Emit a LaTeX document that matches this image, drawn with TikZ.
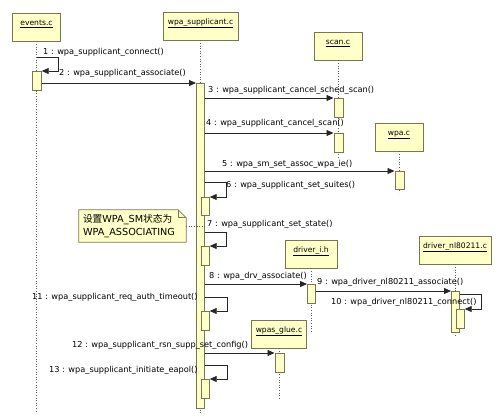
\documentclass[tikz,border=0pt]{standalone}
\usepackage{fontspec}
\setmainfont{DejaVu Sans}
\newfontfamily\cjk{Noto Sans CJK SC}
\usetikzlibrary{arrows.meta,backgrounds}
\definecolor{boxfill}{RGB}{255,255,200}
\definecolor{boxdraw}{RGB}{120,120,80}
\definecolor{lifec}{RGB}{90,90,90}
\begin{document}
\begin{tikzpicture}[x=1pt,y=-1pt,
 head/.style={draw=boxdraw, fill=boxfill, line width=0.8pt, inner sep=0pt, text height=12.5pt, text depth=15.5pt, font=\fontsize{7.6}{9}\selectfont},
 act/.style={draw=boxdraw, fill=boxfill, line width=0.7pt, minimum width=8pt, inner sep=0pt, anchor=north west},
 life/.style={draw=lifec, line width=0.8pt, dash pattern=on 1pt off 1.6pt},
 msg/.style={draw=black!85, line width=0.8pt, -{Triangle[length=7pt,width=6pt]}},
 lbl/.style={anchor=west, inner sep=0pt, font=\fontsize{8.2}{10}\selectfont},
 notebox/.style={inner xsep=4pt, inner ysep=0pt, minimum height=32pt, text width=99pt, align=left, font=\fontsize{9.7}{13.5}\selectfont},
 noteline/.style={draw=boxdraw, fill=boxfill, line width=0.8pt, line join=round},
]
\useasboundingbox (0,0) rectangle (501,416);
% headers
\node[head, minimum width=48pt] (ev) at (36.5,27) {\underline{events.c}};
\node[head, minimum width=75pt] (ws) at (200.5,26) {\underline{wpa\_supplicant.c}};
\node[head, minimum width=48pt] (sc) at (338,46) {\underline{scan.c}};
\node[head, minimum width=48pt] (wp) at (399,137) {\underline{wpa.c}};
\node[head, minimum width=52pt] (dr) at (311,254) {\underline{driver\_i.h}};
\node[head, minimum width=72pt] (nl) at (455,250) {\underline{driver\_nl80211.c}};
\node[head, minimum width=55pt] (gl) at (279,334) {\underline{wpas\_glue.c}};
% lifeline ends
\coordinate (ev_end) at (36.5,413);
\coordinate (ws_end) at (200.5,413);
\coordinate (sc_end) at (338,158);
\coordinate (wp_end) at (399,193);
\coordinate (dr_end) at (311,332);
\coordinate (nl_end) at (455,337);
\coordinate (gl_end) at (279,400);
\draw[life] (ev) -- (ev_end);
\draw[life] (ws) -- (ws_end);
\draw[life] (sc) -- (sc_end);
\draw[life] (wp) -- (wp_end);
\draw[life] (dr) -- (dr_end);
\draw[life] (nl) -- (nl_end);
\draw[life] (gl) -- (gl_end);
% activations
\node[act, minimum width=9pt, minimum height=19pt] (ev_a) at (32,71) {};
\node[act, minimum height=325pt] (ws_a) at (196,83) {};
\node[act, minimum width=9pt, minimum height=19pt] (sc_a1) at (333.5,98) {};
\node[act, minimum width=9pt, minimum height=19pt] (sc_a2) at (333.5,133) {};
\node[act, minimum width=9pt, minimum height=18pt] (wp_a) at (394.5,171) {};
\node[act, minimum height=18pt] (ws_n6) at (201,197) {};
\node[act, minimum height=19pt] (ws_n7) at (201,246) {};
\node[act, minimum height=19pt] (dr_a) at (307,284) {};
\node[act, minimum height=41pt] (nl_a) at (451,291) {};
\node[act, minimum height=19pt] (nl_n) at (456,309) {};
\node[act, minimum height=19pt] (ws_n11) at (201,311) {};
\node[act, minimum width=9pt, minimum height=19pt] (gl_a) at (274.5,353) {};
\node[act, minimum height=19pt] (ws_n13) at (201,379) {};
% messages
\coordinate (m1a) at (36.5,57);
\coordinate (m1b) at (58,57);
\draw[msg] (m1a) -- (m1b) |- (ev_a.north east);
\draw[msg] (ev_a.east |- ws_a.north) -- (ws_a.north west);
\draw[msg] (ws_a.east |- sc_a1.north) -- (sc_a1.north west);
\draw[msg] (ws_a.east |- sc_a2.north) -- (sc_a2.north west);
\draw[msg] (ws_a.east |- wp_a.north) -- (wp_a.north west);
\coordinate (m6) at (226,182);
\draw[msg] (ws_a.east |- m6) -- (m6) |- (ws_n6.north east);
\coordinate (m7) at (226,232);
\draw[msg] (ws_a.east |- m7) -- (m7) |- (ws_n7.north east);
\draw[msg] (ws_a.east |- dr_a.north) -- (dr_a.north west);
\draw[msg] (dr_a.east |- nl_a.north) -- (nl_a.north west);
\coordinate (m10) at (481,294);
\draw[msg] (nl_a.east |- m10) -- (m10) |- (nl_n.north east);
\coordinate (m11) at (227,297);
\draw[msg] (ws_a.east |- m11) -- (m11) |- (ws_n11.north east);
\draw[msg] (ws_a.east |- gl_a.north) -- (gl_a.north west);
\coordinate (m13) at (227,365);
\draw[msg] (ws_a.east |- m13) -- (m13) |- (ws_n13.north east);
% labels
\node[lbl] (l1) at (43,52) {1 : wpa\_supplicant\_connect()};
\node[lbl] (l2) at (59,73) {2 : wpa\_supplicant\_associate()};
\node[lbl] (l3) at (208,90) {3 : wpa\_supplicant\_cancel\_sched\_scan()};
\node[lbl] (l4) at (206,123) {4 : wpa\_supplicant\_cancel\_scan()};
\node[lbl] (l5) at (222,164) {5 : wpa\_sm\_set\_assoc\_wpa\_ie()};
\node[lbl] (l6) at (226,185) {6 : wpa\_supplicant\_set\_suites()};
\node[lbl] (l7) at (207,224) {7 : wpa\_supplicant\_set\_state()};
\node[lbl] (l8) at (209,276) {8 : wpa\_drv\_associate()};
\node[lbl] (l9) at (317,282) {9 : wpa\_driver\_nl80211\_associate()};
\node[lbl] (l10) at (331,302) {10 : wpa\_driver\_nl80211\_connect()};
\node[lbl] (l11) at (32,297) {11 : wpa\_supplicant\_req\_auth\_timeout()};
\node[lbl] (l12) at (72,345) {12 : wpa\_supplicant\_rsn\_supp\_set\_config()};
\node[lbl] (l13) at (49,370) {13 : wpa\_supplicant\_initiate\_eapol()};
% note
\node[notebox] (note) at (132.5,226) {{\cjk 设置}WPA\_SM{\cjk 状态为}\\WPA\_ASSOCIATING};
\begin{scope}[on background layer]
\draw[noteline] (note.north west) -- ([xshift=-8pt]note.north east) -- ([yshift=-8pt]note.north east) -- (note.south east) -- (note.south west) -- cycle;
\draw[noteline, fill=none] ([xshift=-8pt]note.north east) -- ([xshift=-8pt,yshift=-8pt]note.north east) -- ([yshift=-8pt]note.north east);
\end{scope}
\draw[life] (note.east) -- (ws_a.east |- note.east);
\end{tikzpicture}
\end{document}
